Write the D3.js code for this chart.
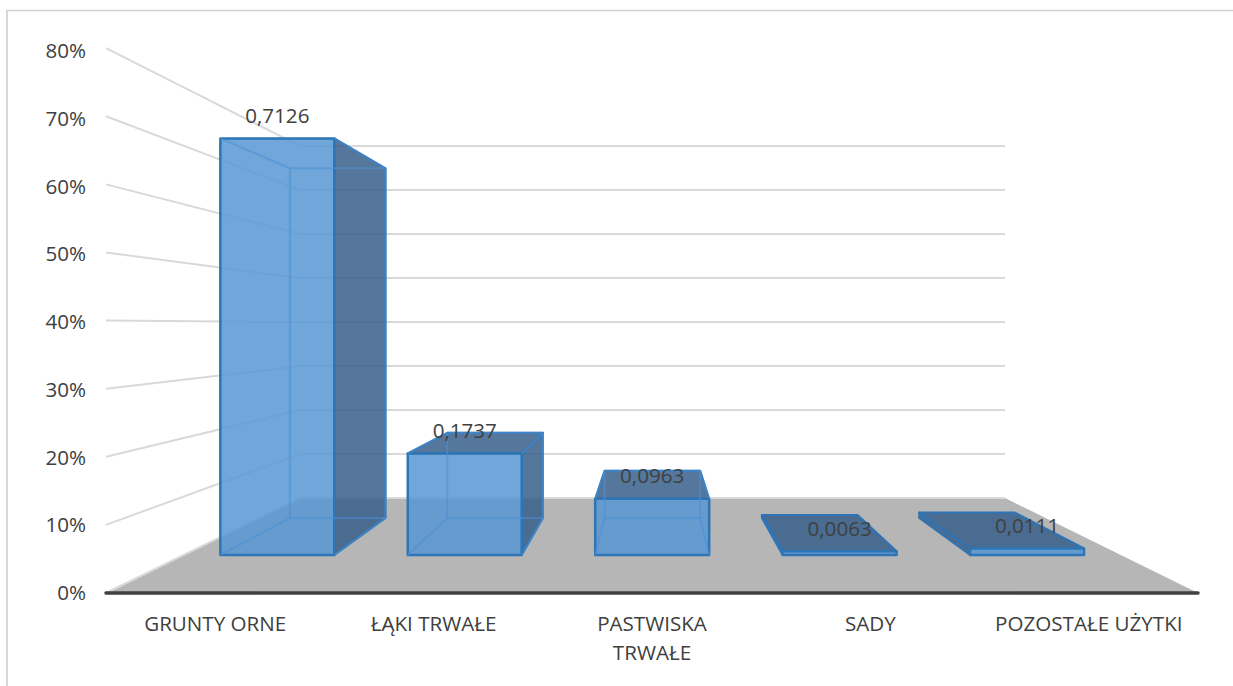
<!DOCTYPE html>
<html>
<head>
<meta charset="utf-8">
<script src="https://d3js.org/d3.v7.min.js"></script>
<style>
  html, body { margin: 0; padding: 0; background: #fff; }
  svg { display: block; }
  text { font-family: "Open Sans", sans-serif; font-size: 20.6px; fill: #404040; }
  .tick line, .domain { display: none; }
</style>
</head>
<body>
<div id="chart"></div>
<script>
var categories = ["GRUNTY ORNE", "ŁĄKI TRWAŁE", "PASTWISKA\nTRWAŁE", "SADY", "POZOSTAŁE UŻYTKI"];
var values = [0.7126, 0.1737, 0.0963, 0.0063, 0.0111];
var yTicks = [0, 0.1, 0.2, 0.3, 0.4, 0.5, 0.6, 0.7, 0.8];

var width = 1233;
var height = 686;

// Front edge of the floor and back wall, as drawn by the 3D chart
var frontLeft = 106, frontRight = 1198, frontY = 593, frontUnit = 681;
var backLeft = 300, backRight = 1005, backY = 498, backUnit = 440;

// Where the bars stand on the floor, 0 is front edge and 1 is back wall
var barFront = 0.4;
var barBack = 0.789;

var COLORS = {
  grid: "#d9d9d9",
  frame: "#cfcfcf",
  floor: "#b6b6b6",
  axis: "#404040",
  face: "#5796d3",
  dark: "#365f8a",
  edge: "#2e75b6",
  inner: "#4c8fd3"
};

var svg = d3.select("#chart").append("svg")
  .attr("width", width)
  .attr("height", height);

// Scales: depth interpolates every plane between front and back
var depthLeft = d3.scaleLinear().domain([0, 1]).range([frontLeft, backLeft]);
var depthRight = d3.scaleLinear().domain([0, 1]).range([frontRight, backRight]);
var depthFloor = d3.scaleLinear().domain([0, 1]).range([frontY, backY]);
var depthUnit = d3.scaleLinear().domain([0, 1]).range([frontUnit, backUnit]);

var xBand = d3.scaleBand()
  .domain(categories)
  .range([0, 1])
  .paddingInner(0.392)
  .paddingOuter(0.196);
var xStep = d3.scaleBand().domain(categories).range([frontLeft, frontRight]);

// The labels sit a little tighter than the gridlines
var yLabels = d3.scaleLinear().domain([0, 0.8]).range([frontY, 51]);

var project = function(xFrac, value, depth) {
  var left = depthLeft(depth);
  return [
    left + xFrac * (depthRight(depth) - left),
    depthFloor(depth) - value * depthUnit(depth)
  ];
};

var polyLine = d3.line();

// Floor
svg.append("path")
  .attr("d", polyLine([[frontLeft, frontY], [backLeft, backY], [backRight, backY], [frontRight, frontY]]) + "Z")
  .attr("fill", COLORS.floor);

// Gridlines on the side wall and the back wall
yTicks.forEach(function(t) {
  svg.append("path")
    .attr("d", polyLine([project(0, t, 0), project(0, t, 1), project(1, t, 1)]))
    .attr("fill", "none")
    .attr("stroke", COLORS.grid)
    .attr("stroke-width", 2);
});

// Bars
var bars = svg.append("g").attr("class", "bars");

categories.forEach(function(c, i) {
  var v = values[i];
  var x0 = xBand(c);
  var x1 = x0 + xBand.bandwidth();

  var fbl = project(x0, 0, barFront), fbr = project(x1, 0, barFront);
  var ftl = project(x0, v, barFront), ftr = project(x1, v, barFront);
  var bbl = project(x0, 0, barBack), bbr = project(x1, 0, barBack);
  var btl = project(x0, v, barBack), btr = project(x1, v, barBack);

  var g = bars.append("g");

  var face = function(points, fill, stroke, strokeWidth) {
    g.append("path")
      .attr("d", polyLine(points) + "Z")
      .attr("fill", fill)
      .attr("fill-opacity", 0.85)
      .attr("stroke", stroke)
      .attr("stroke-width", strokeWidth)
      .attr("stroke-linejoin", "round");
  };

  // Hidden edges seen through the front
  var hidden = function(a, b) {
    g.append("path")
      .attr("d", polyLine([a, b]))
      .attr("stroke", COLORS.inner)
      .attr("stroke-width", 2)
      .attr("stroke-opacity", 0.55);
  };

  // Visible side and top faces
  if (fbr[0] < bbr[0]) face([fbr, bbr, btr, ftr], COLORS.dark, COLORS.edge, 2);
  if (bbl[0] < fbl[0]) face([fbl, bbl, btl, ftl], COLORS.dark, COLORS.edge, 2);
  if (btl[1] < ftl[1]) face([ftl, btl, btr, ftr], COLORS.dark, COLORS.edge, 2);

  // Front face
  face([fbl, fbr, ftr, ftl], COLORS.face, COLORS.edge, 2.5);

  // Thin slabs have nothing to see through
  if (v > 0.05) {
    hidden(bbl, bbr);
    hidden(bbl, btl);
    hidden(bbr, btr);
    hidden(btl, btr);
    hidden(fbl, bbl);
    hidden(fbr, bbr);
    hidden(ftl, btl);
    hidden(ftr, btr);
  }
});

// Front axis line on top of the floor
svg.append("line")
  .attr("x1", frontLeft)
  .attr("x2", frontRight)
  .attr("y1", frontY)
  .attr("y2", frontY)
  .attr("stroke", COLORS.axis)
  .attr("stroke-width", 3.5)
  .attr("stroke-linecap", "round");

// Axis labels
var yAxis = d3.axisLeft(yLabels)
  .tickValues(yTicks)
  .tickSize(0)
  .tickPadding(20)
  .tickFormat(d3.format(".0%"));

svg.append("g")
  .attr("class", "y axis")
  .attr("transform", "translate(" + frontLeft + ",0)")
  .call(yAxis);

var xAxis = d3.axisBottom(xStep).tickSize(0).tickPadding(23);

var xAxisGroup = svg.append("g")
  .attr("class", "x axis")
  .attr("transform", "translate(0," + frontY + ")")
  .call(xAxis);

xAxisGroup.selectAll(".tick text").each(function(d) {
  var label = d3.select(this);
  var dy = label.attr("dy");
  label.text(null);
  d.split("\n").forEach(function(line, i) {
    label.append("tspan")
      .attr("x", 0)
      .attr("dy", i ? "29" : dy)
      .text(line);
  });
});

// Value labels, with a decimal comma
var labelFormat = d3.formatLocale({
  decimal: ",",
  thousands: " ",
  grouping: [3],
  currency: ["", " zł"]
}).format(".4f");

svg.append("g")
  .attr("class", "value")
  .selectAll("text")
  .data(values)
  .enter()
  .append("text")
  .text(function(d) {
    return labelFormat(d);
  })
  .attr("x", function(d, i) {
    return project(xBand(categories[i]) + xBand.bandwidth() / 2, d, barFront)[0];
  })
  .attr("y", function(d) {
    return project(0, d, barFront)[1] - 23;
  })
  .attr("dy", "0.35em")
  .attr("text-anchor", "middle");

// Chart frame, open at the right and bottom of the crop
svg.append("path")
  .attr("d", polyLine([[7, height], [7, 10.5], [width, 10.5]]))
  .attr("fill", "none")
  .attr("stroke", COLORS.frame)
  .attr("stroke-width", 1.6);
</script>
</body>
</html>
